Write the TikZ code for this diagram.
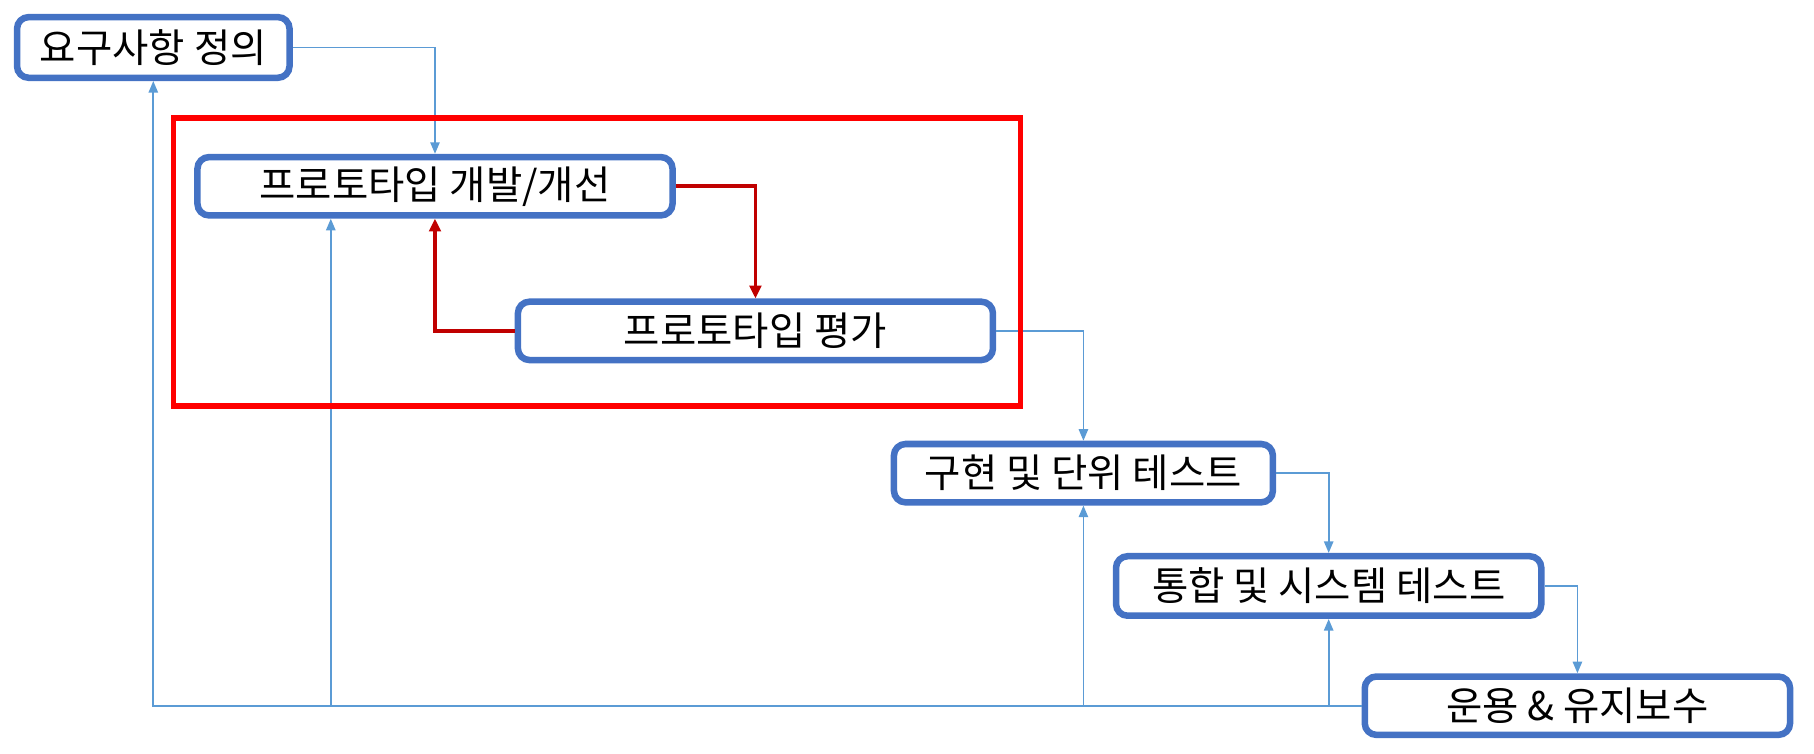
\documentclass[tikz,border=0pt]{standalone}
\usepackage{fontspec}
\newfontfamily\krfont{Noto Sans CJK KR}
\usepackage{tikz}
\usetikzlibrary{arrows.meta}
\usepackage{xcolor}
\definecolor{stageblue}{HTML}{4472C4}
\definecolor{linkblue}{HTML}{5B9BD5}
\definecolor{loopred}{HTML}{C00000}

\begin{document}
\begin{tikzpicture}[
    x=0.01cm, y=-0.01cm,
    stage/.style={rectangle, rounded corners=0.1cm, draw=stageblue, fill=white, line width=1.6pt, minimum height=0.504cm, inner sep=0pt, font=\krfont\fontsize{9.7}{11}\selectfont},
    arrow/.style={->, >={Triangle[length=0.1cm, width=0.08cm]}, draw=linkblue, line width=0.45pt},
    redarrow/.style={->, >={Triangle[length=0.11cm, width=0.1cm]}, draw=loopred, line width=0.95pt},
    redframe/.style={draw=red, line width=1.4pt}
]
\useasboundingbox (0,0) rectangle (1568,651);

% Stage nodes
\node[stage, minimum width=2.354cm, minimum height=0.524cm] (req) at (132.5,41) {요구사항 정의};
\node[stage, minimum width=4.104cm] (dev) at (376,161) {프로토타입 개발/개선};
\node[stage, minimum width=4.104cm] (eval) at (653,286) {프로토타입 평가};
\node[stage, minimum width=3.274cm] (impl) at (936.5,409) {구현 및 단위 테스트};
\node[stage, minimum width=3.674cm, minimum height=0.514cm] (integ) at (1148.5,506.5) {통합 및 시스템 테스트};
\node[stage, minimum width=3.674cm] (ops) at (1363.5,610) {운용 \& 유지보수};
\coordinate (devin) at ([xshift=-0.9cm]dev.south);

% Arrows down the steps
\draw[arrow] (req.east) -| (dev.north);
\draw[arrow] (eval.east) -| (impl.north);
\draw[arrow] (impl.east) -| (integ.north);
\draw[arrow] (integ.east) -| (ops.north);

% Prototype loop
\draw[redarrow] (dev.east) -| (eval.north);
\draw[redarrow] (eval.west) -| (dev.south);

% Feedback from operation
\draw[arrow] (ops.west) -| (req.south);
\draw[arrow] (ops.west) -| (devin);
\draw[arrow] (ops.west) -| (impl.south);
\draw[arrow] (ops.west) -| (integ.south);

% Prototyping frame
\draw[redframe] (150,102) rectangle (882,351);

\end{tikzpicture}
\end{document}
